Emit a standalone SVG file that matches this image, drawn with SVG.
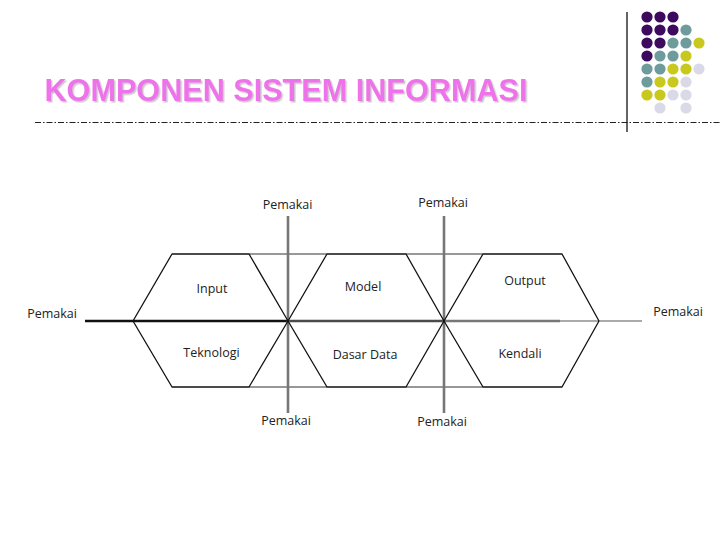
<svg xmlns="http://www.w3.org/2000/svg" width="720" height="540" viewBox="0 0 720 540">
<defs>
<filter id="shadow" x="-5%" y="-20%" width="110%" height="150%">
<feDropShadow dx="1.5" dy="1.5" stdDeviation="0.6" flood-color="#c8c0c8" flood-opacity="0.9"/>
</filter>
<style>
.bg{fill:#ffffff}
.title{font-family:"Liberation Sans",Arial,sans-serif;font-weight:bold;font-size:30.5px;fill:#ee72ea}
.lbl{font-family:"Open Sans","Noto Sans",sans-serif;font-size:12.5px;fill:#222222;text-anchor:middle}
.trap{fill:none;stroke:#111111;stroke-width:1.3;stroke-linejoin:round}
.link{stroke:#333333;stroke-width:1.2;fill:none}
.axisv{stroke:#777777;stroke-width:2.6}
.p{fill:#3d0a5e}.t{fill:#6e9c9c}.y{fill:#c9c81f}.l{fill:#d9d9e8}
</style>
</defs>
<rect class="bg" x="0" y="0" width="720" height="540"/>

<g id="header">
<text class="title" x="44.5" y="101" textLength="483" lengthAdjust="spacingAndGlyphs" filter="url(#shadow)">KOMPONEN SISTEM INFORMASI</text>
<line x1="35" y1="122.5" x2="720" y2="122.5" stroke="#222222" stroke-width="1" stroke-dasharray="6 2 1.5 2"/>
<line x1="627" y1="12" x2="627" y2="132" stroke="#111111" stroke-width="1.3"/>
<g id="dots">
<circle class="p" cx="647" cy="17" r="5.6"/><circle class="p" cx="660" cy="17" r="5.6"/><circle class="p" cx="673" cy="17" r="5.6"/>
<circle class="p" cx="647" cy="30" r="5.6"/><circle class="p" cx="660" cy="30" r="5.6"/><circle class="p" cx="673" cy="30" r="5.6"/><circle class="t" cx="686" cy="30" r="5.6"/>
<circle class="p" cx="647" cy="43" r="5.6"/><circle class="p" cx="660" cy="43" r="5.6"/><circle class="t" cx="673" cy="43" r="5.6"/><circle class="t" cx="686" cy="43" r="5.6"/><circle class="y" cx="699" cy="43" r="5.6"/>
<circle class="p" cx="647" cy="56" r="5.6"/><circle class="t" cx="660" cy="56" r="5.6"/><circle class="t" cx="673" cy="56" r="5.6"/><circle class="y" cx="686" cy="56" r="5.6"/>
<circle class="t" cx="647" cy="69" r="5.6"/><circle class="t" cx="660" cy="69" r="5.6"/><circle class="y" cx="673" cy="69" r="5.6"/><circle class="y" cx="686" cy="69" r="5.6"/><circle class="l" cx="699" cy="69" r="5.6"/>
<circle class="t" cx="647" cy="82" r="5.6"/><circle class="y" cx="660" cy="82" r="5.6"/><circle class="y" cx="673" cy="82" r="5.6"/><circle class="l" cx="686" cy="82" r="5.6"/>
<circle class="y" cx="647" cy="95" r="5.6"/><circle class="y" cx="660" cy="95" r="5.6"/><circle class="l" cx="673" cy="95" r="5.6"/><circle class="l" cx="686" cy="95" r="5.6"/>
<circle class="l" cx="660" cy="108" r="5.6"/><circle class="l" cx="686" cy="108" r="5.6"/>
</g>
</g>

<g id="connectors">
<line class="link" x1="249" y1="254" x2="327" y2="254"/>
<line class="link" x1="406" y1="254" x2="483" y2="254"/>
<line class="link" x1="249" y1="387" x2="327" y2="387"/>
<line class="link" x1="406" y1="387" x2="483" y2="387"/>
<line x1="85" y1="321" x2="288" y2="321" stroke="#111111" stroke-width="2.6"/>
<line x1="288" y1="321" x2="444" y2="321" stroke="#4a4a4a" stroke-width="2.6"/>
<line x1="444" y1="321" x2="560" y2="321" stroke="#777777" stroke-width="2.6"/>
<line x1="560" y1="321" x2="642" y2="321" stroke="#aaaaaa" stroke-width="2"/>
<line class="axisv" x1="288" y1="216" x2="288" y2="413"/>
<line class="axisv" x1="444" y1="216" x2="444" y2="413"/>
</g>

<g id="input"><polyline class="trap" points="133,321 172,254 249,254 288,321"/><text class="lbl" x="212" y="293">Input</text></g>
<g id="teknologi"><polyline class="trap" points="133,321 172,387 249,387 288,321"/><text class="lbl" x="211.5" y="357">Teknologi</text></g>
<g id="model"><polyline class="trap" points="288,321 327,254 406,254 444,321"/><text class="lbl" x="363" y="291">Model</text></g>
<g id="dasar-data"><polyline class="trap" points="288,321 327,387 406,387 444,321"/><text class="lbl" x="365" y="359">Dasar Data</text></g>
<g id="output"><polyline class="trap" points="444,321 483,254 562,254 599,321"/><text class="lbl" x="525" y="285">Output</text></g>
<g id="kendali"><polyline class="trap" points="444,321 483,387 562,387 599,321"/><text class="lbl" x="520" y="358">Kendali</text></g>

<g id="pemakai-labels">
<text class="lbl" x="287.5" y="209">Pemakai</text>
<text class="lbl" x="443" y="207">Pemakai</text>
<text class="lbl" x="286" y="425">Pemakai</text>
<text class="lbl" x="442" y="426">Pemakai</text>
<text class="lbl" x="52" y="318">Pemakai</text>
<text class="lbl" x="678" y="316">Pemakai</text>
</g>
</svg>
